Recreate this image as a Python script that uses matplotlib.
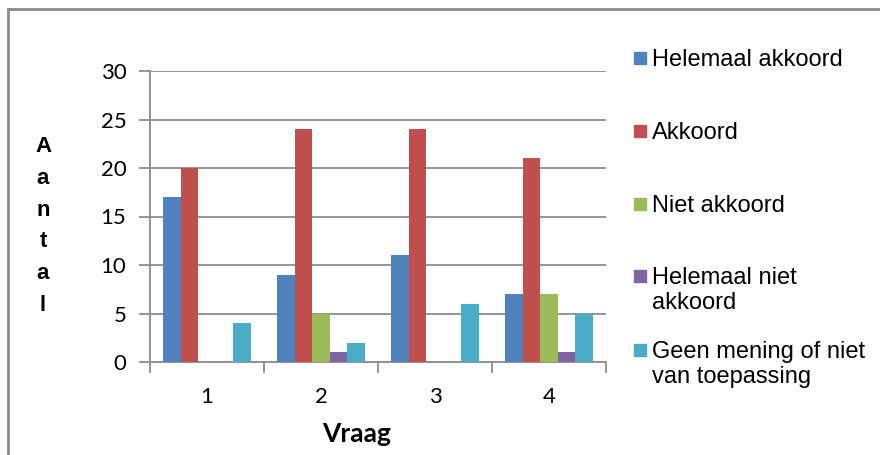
import numpy as np
import matplotlib.pyplot as plt
from matplotlib.patches import Rectangle
from matplotlib.lines import Line2D

# data
questions = ["1", "2", "3", "4"]
series = ["Helemaal akkoord", "Akkoord", "Niet akkoord",
          "Helemaal niet\nakkoord", "Geen mening of niet\nvan toepassing"]
helemaal_akkoord = [17, 9, 11, 7]
akkoord = [20, 24, 24, 21]
niet_akkoord = [0, 5, 0, 7]
helemaal_niet = [0, 1, 0, 1]
geen_mening = [4, 2, 6, 5]
values = [helemaal_akkoord, akkoord, niet_akkoord, helemaal_niet, geen_mening]
colors = ["#4F81BD", "#C0504D", "#9BBB59", "#8064A2", "#4BACC6"]

W, H = 880, 455
fig = plt.figure(figsize=(W / 100, H / 100), dpi=100)
ax = fig.add_axes([150 / W, 1 - 362 / H, 456 / W, 291 / H])

grid_col = "#8C8C8C"
x = np.arange(len(questions))
bw = 0.153
for i, (vals, col) in enumerate(zip(values, colors)):
    ax.bar(x + (i - 2) * bw, vals, bw, color=col, zorder=3)

ax.set_xlim(-0.5, 3.5)
ax.set_ylim(0, 30)
ax.set_yticks(range(0, 31, 5))
ax.yaxis.grid(True, color=grid_col, linewidth=1.3, zorder=0)
ax.set_xticks(np.arange(-0.5, 4, 1))
ax.set_xticklabels([])
ax.set_xticks(x, minor=True)
ax.set_xticklabels(questions, minor=True)
ax.tick_params(axis="x", which="major", length=8, width=1.3, color=grid_col)
ax.tick_params(axis="x", which="minor", length=0, pad=18)
ax.tick_params(axis="y", length=8, width=1.3, color=grid_col, pad=9)
for lbl in ax.get_xticklabels(minor=True) + ax.get_yticklabels():
    lbl.set_fontfamily("Lato")
    lbl.set_fontsize(16)
for s in ["top", "right"]:
    ax.spines[s].set_visible(False)
for s in ["left", "bottom"]:
    ax.spines[s].set_color(grid_col)
    ax.spines[s].set_linewidth(1.3)

fig.text(357 / W, 1 - 434 / H, "Vraag", ha="center", va="center",
         family="Lato", fontweight="bold", fontsize=19)
fig.text(43 / W, 1 - 226 / H, "\n".join("Aantal"), ha="center", va="center",
         family="Liberation Sans", fontweight="bold", fontsize=16,
         linespacing=1.68)

# legend drawn by hand to keep Excel's even spacing
rows = [58, 131, 204, 276, 350]
for lab, col, yc in zip(series, colors, rows):
    fig.patches.append(Rectangle((634 / W, 1 - (yc + 6) / H), 12 / W, 12 / H,
                                 transform=fig.transFigure, color=col))
    fig.text(652 / W, 1 - (yc - 9) / H, lab, ha="left", va="top",
             family="Liberation Sans", fontsize=17, linespacing=1.16)

# chart area border (left and top visible)
fig.add_artist(Line2D([7.5 / W, 7.5 / W], [0, 1 - 9 / H], color="#8C8C8C",
                      linewidth=2, transform=fig.transFigure))
fig.add_artist(Line2D([7.5 / W, 1], [1 - 9 / H, 1 - 9 / H], color="#8C8C8C",
                      linewidth=2, transform=fig.transFigure))

fig.savefig("out.png", dpi=100)
